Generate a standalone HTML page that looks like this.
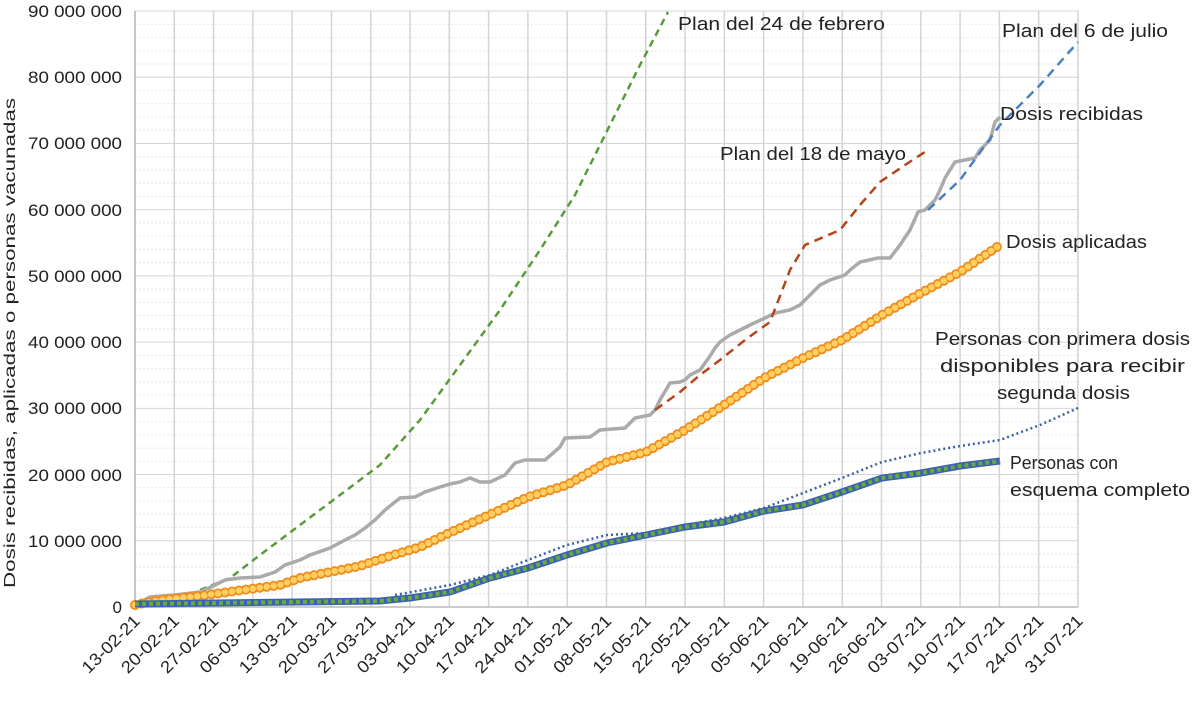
<!DOCTYPE html><html><head><style>body{margin:0;background:#fff}svg text{font-family:"Liberation Sans",sans-serif;fill:#222}</style></head><body>
<svg width="1200" height="704" xmlns="http://www.w3.org/2000/svg">
<g id="grid"></g>
<g font-size="17" text-anchor="end">
<text x="122" y="613">0</text>
<text x="122" y="547" textLength="94" lengthAdjust="spacingAndGlyphs">10 000 000</text>
<text x="122" y="481" textLength="94" lengthAdjust="spacingAndGlyphs">20 000 000</text>
<text x="122" y="414" textLength="94" lengthAdjust="spacingAndGlyphs">30 000 000</text>
<text x="122" y="348" textLength="94" lengthAdjust="spacingAndGlyphs">40 000 000</text>
<text x="122" y="282" textLength="94" lengthAdjust="spacingAndGlyphs">50 000 000</text>
<text x="122" y="216" textLength="94" lengthAdjust="spacingAndGlyphs">60 000 000</text>
<text x="122" y="149" textLength="94" lengthAdjust="spacingAndGlyphs">70 000 000</text>
<text x="122" y="83" textLength="94" lengthAdjust="spacingAndGlyphs">80 000 000</text>
<text x="122" y="17" textLength="94" lengthAdjust="spacingAndGlyphs">90 000 000</text>
</g>
<text transform="translate(15,343) rotate(-90)" font-size="16" text-anchor="middle" textLength="490" lengthAdjust="spacingAndGlyphs">Dosis recibidas, aplicadas o personas vacunadas</text>
<g id="xl" font-size="17" text-anchor="end"></g>
<polyline fill="none" stroke="#5a9a3a" stroke-width="2.5" stroke-dasharray="7,5" points="200,590 230,578 260,555 300,525 340,495 380,465 420,420 460,365 500,310 540,250 575,195 610,125 640,65 668,12"/>
<polyline fill="none" stroke="#aaa" stroke-width="3.5" points="135,605 150,597 175,595 200,592 215,585 225,580 240,578 260,577 275,572 285,565 300,560 310,555 330,548 345,540 355,535 365,528 375,520 385,510 400,498 415,497 425,492 440,487 450,484 460,482 470,478 480,482 490,482 505,475 515,463 525,460 545,460 560,447 565,438 590,437 600,430 625,428 635,418 650,415 655,410 660,400 670,383 680,382 685,380 690,375 700,370 710,356 715,348 720,342 730,335 740,330 750,325 765,318 775,313 790,310 800,305 810,295 820,285 830,280 845,275 850,270 860,262 878,258 890,258 900,245 910,230 918,212 925,210 935,200 940,190 945,178 955,162 965,160 975,158 980,150 990,140 995,122 1000,117"/>
<polyline fill="none" stroke="#b5441b" stroke-width="2.5" stroke-dasharray="9,6" points="655,410 680,392 700,375 720,360 745,340 770,322 790,270 805,245 840,230 860,205 880,182 905,165 928,150"/>
<polyline fill="none" stroke="#4a7fc0" stroke-width="2.5" stroke-dasharray="9,6" points="928,210 960,180 1000,125 1040,85 1078,42"/>
<polyline fill="none" stroke="#3a5fa8" stroke-width="2.5" stroke-dasharray="2,3" points="395,595 450,585 490,575 528,560 567,545 607,535 646,533 685,525 724,518 764,508 803,493 842,478 882,462 921,453 960,446 1000,440 1040,425 1078,408"/>
<g fill="none" stroke-linecap="round" stroke-dasharray="0 7">
<polyline stroke="#f08a1c" stroke-width="10" points="135,605 160,600 200,596 250,589 280,585 300,578 330,572 360,566 390,556 420,547 449,533 489,515 528,497 567,485 607,462 646,452 685,430 724,405 764,378 803,358 842,340 882,315 921,293 960,272 1000,245"/>
<polyline stroke="#ffd060" stroke-width="6.5" points="135,605 160,600 200,596 250,589 280,585 300,578 330,572 360,566 390,556 420,547 449,533 489,515 528,497 567,485 607,462 646,452 685,430 724,405 764,378 803,358 842,340 882,315 921,293 960,272 1000,245"/>
</g>
<polyline fill="none" stroke="#3a62b0" stroke-width="7" points="135,604 380,601 410,598 450,592 490,578 528,568 567,555 607,543 646,535 685,527 724,522 764,511 803,505 842,492 882,478 921,473 960,466 1000,461"/>
<polyline fill="none" stroke="#6aaa3a" stroke-width="4" stroke-dasharray="4,3" points="135,604 380,601 410,598 450,592 490,578 528,568 567,555 607,543 646,535 685,527 724,522 764,511 803,505 842,492 882,478 921,473 960,466 1000,461"/>
<g font-size="18">
<text x="678" y="30" textLength="207" lengthAdjust="spacingAndGlyphs">Plan del 24 de febrero</text>
<text x="1002" y="37" textLength="166" lengthAdjust="spacingAndGlyphs">Plan del 6 de julio</text>
<text x="1000" y="120" textLength="143" lengthAdjust="spacingAndGlyphs">Dosis recibidas</text>
<text x="720" y="160" textLength="186" lengthAdjust="spacingAndGlyphs">Plan del 18 de mayo</text>
<text x="1006" y="248" textLength="141" lengthAdjust="spacingAndGlyphs">Dosis aplicadas</text>
<text x="935" y="345" textLength="255" lengthAdjust="spacingAndGlyphs">Personas con primera dosis</text>
<text x="940" y="372" textLength="245" lengthAdjust="spacingAndGlyphs">disponibles para recibir</text>
<text x="997" y="399" textLength="133" lengthAdjust="spacingAndGlyphs">segunda dosis</text>
<text x="1010" y="469" textLength="108" lengthAdjust="spacingAndGlyphs">Personas con</text>
<text x="1010" y="496" textLength="180" lengthAdjust="spacingAndGlyphs">esquema completo</text>
</g>
</svg>
<script>
var ns="http://www.w3.org/2000/svg",g=document.getElementById("grid"),xl=document.getElementById("xl");
function ln(x1,y1,x2,y2,c,w,d){var l=document.createElementNS(ns,"line");l.setAttribute("x1",x1);l.setAttribute("y1",y1);l.setAttribute("x2",x2);l.setAttribute("y2",y2);l.setAttribute("stroke",c);l.setAttribute("stroke-width",w);if(d)l.setAttribute("stroke-dasharray",d);g.appendChild(l);}
var y0=607,py=6.622;
for(var i=0;i<=45;i++){var y=y0-i*2*py;ln(135,y,1078,y,i%5==0?"#d4d4d4":"#e6e6e6",1,i%5==0?null:"2,2");}
var labs=["13-02-21","20-02-21","27-02-21","06-03-21","13-03-21","20-03-21","27-03-21","03-04-21","10-04-21","17-04-21","24-04-21","01-05-21","08-05-21","15-05-21","22-05-21","29-05-21","05-06-21","12-06-21","19-06-21","26-06-21","03-07-21","10-07-21","17-07-21","24-07-21","31-07-21"];
for(var k=0;k<labs.length;k++){var x=135+k*39.29;ln(x,11,x,607,"#d4d4d4",1.5);
var t=document.createElementNS(ns,"text");t.setAttribute("transform","translate("+(x+6)+",622) rotate(-45)");t.setAttribute("textLength","74");t.setAttribute("lengthAdjust","spacingAndGlyphs");t.textContent=labs[k];xl.appendChild(t);}
ln(135,11,135,607,"#bbb",1.5);ln(135,607,1078,607,"#bbb",1.5);
</script>
</body></html>
